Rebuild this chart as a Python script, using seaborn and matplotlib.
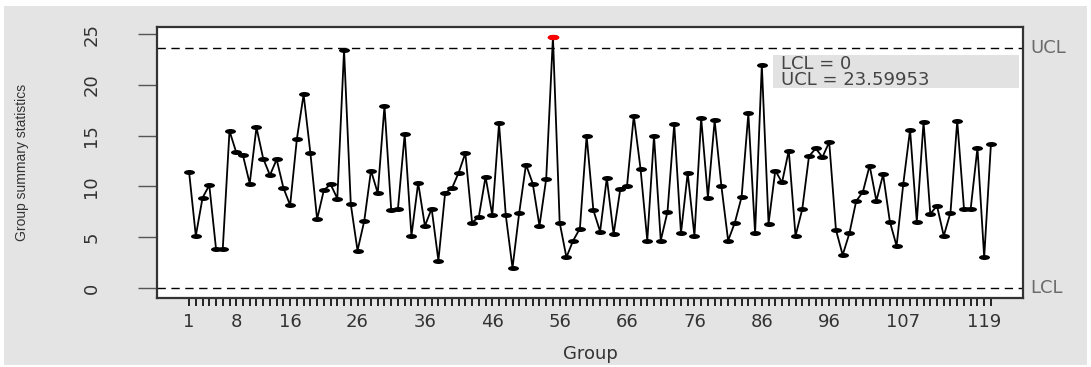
import numpy as np
import pandas as pd
import matplotlib
matplotlib.use("Agg")
import matplotlib.pyplot as plt
import seaborn as sns
from matplotlib.markers import MarkerStyle
from matplotlib.transforms import Affine2D
from matplotlib.patches import Rectangle

# Group summary statistics, one value per group (groups 1..120)
stats = [
    11.44, 5.13, 8.88, 10.12, 3.85, 3.85, 15.48, 13.35, 13.05, 10.29,
    15.81, 12.75, 11.11, 12.66, 9.86, 8.15, 14.69, 19.07, 13.31, 6.77,
    9.63, 10.22, 8.81, 23.44, 8.25, 3.68, 6.61, 11.57, 9.34, 17.95,
    7.66, 7.82, 15.15, 5.13, 10.36, 6.11, 7.82, 2.70, 9.37, 9.80,
    11.34, 13.28, 6.44, 7.00, 10.95, 7.17, 16.21, 7.17, 1.97, 7.43,
    12.16, 10.29, 6.11, 10.75, 24.72, 6.44, 3.02, 4.67, 5.85, 14.99,
    7.66, 5.56, 10.85, 5.29, 9.76, 10.09, 16.96, 11.74, 4.67, 14.99,
    4.67, 7.50, 16.14, 5.39, 11.34, 5.13, 16.73, 8.91, 16.50, 10.03,
    4.67, 6.44, 8.97, 17.19, 5.39, 21.96, 6.34, 11.57, 10.39, 13.54,
    5.13, 7.76, 12.98, 13.74, 12.89, 14.37, 5.72, 3.25, 5.39, 8.55,
    9.47, 12.06, 8.58, 11.18, 6.54, 4.14, 10.29, 15.58, 6.54, 16.37,
    7.30, 8.09, 5.13, 7.43, 16.47, 7.82, 7.82, 13.81, 3.02, 14.17,
]
groups = list(range(1, len(stats) + 1))

# Control limits
LCL = 0.0
UCL = 23.59953

# Groups that receive a printed label on the x axis
labelled_groups = [1, 8, 16, 26, 36, 46, 56, 66, 76, 86, 96, 107, 119]
y_ticks = [0, 5, 10, 15, 20, 25]

df = pd.DataFrame({"group": groups, "stat": stats})
beyond = df[(df["stat"] > UCL) | (df["stat"] < LCL)]

sns.set_theme(style="white")
plt.rcParams["font.family"] = ["DejaVu Sans"]

W, H = 1091, 367
fig = plt.figure(figsize=(W / 100, H / 100), dpi=100, facecolor="white")
# light grey panel behind everything
fig.patches.append(Rectangle((4 / W, 2 / H), 1083 / W, 359 / H,
                             transform=fig.transFigure, facecolor="#e4e4e4",
                             edgecolor="none", zorder=-10))

ax = fig.add_axes([157 / W, (H - 298) / H, 866 / W, 271 / H])
ax.set_facecolor("white")

# stretched dot marker
dot = MarkerStyle("o", transform=Affine2D().scale(2.2, 1.0))

sns.lineplot(data=df, x="group", y="stat", ax=ax, color="black",
             linewidth=1.3, estimator=None, marker=dot, markersize=3.6,
             markerfacecolor="black", markeredgewidth=0, zorder=3)
sns.scatterplot(data=beyond, x="group", y="stat", ax=ax, color="red",
                marker=dot, s=15, linewidth=0, zorder=4)

# control limit lines
for lim, name in [(UCL, "UCL"), (LCL, "LCL")]:
    ax.axhline(lim, color="black", linewidth=1.0, dashes=(6, 4), zorder=2)
    ax.text(1.008, lim, name, transform=ax.get_yaxis_transform(),
            ha="left", va="center", fontsize=13, color="#6a6a6a",
            clip_on=False)

n = len(stats)
pad = 0.04 * (n - 1)
ax.set_xlim(1 - pad, n + pad)
ymax = max(max(stats), UCL)
ymin = min(min(stats), LCL)
ypad = 0.04 * (ymax - ymin)
ax.set_ylim(ymin - ypad, ymax + ypad)

ax.set_xticks(groups)
ax.set_xticklabels([str(g) if g in labelled_groups else "" for g in groups])
ax.set_yticks(y_ticks)
ax.set_yticklabels([str(v) for v in y_ticks], rotation=90, va="center")

ax.tick_params(axis="x", length=5.8, width=1.4, color="#222222", pad=5,
               labelsize=13, labelcolor="#333333", direction="out",
               bottom=True)
ax.tick_params(axis="y", length=13.7, width=1.0, color="#555555", pad=27,
               labelsize=13, labelcolor="#333333", direction="out",
               left=True)

for sp in ax.spines.values():
    sp.set_visible(True)
    sp.set_color("#333333")
    sp.set_linewidth(1.6)

ax.set_xlabel("Group", fontsize=13, color="#333333")
ax.set_ylabel("Group summary statistics", fontsize=10, color="#333333",
              family=["Liberation Sans", "DejaVu Sans"])
ax.xaxis.set_label_coords(0.5, -0.172)
ax.yaxis.set_label_coords(-0.148, 0.5)

# limits box
ax.add_patch(Rectangle((0.711, 0.775), 0.284, 0.122, transform=ax.transAxes,
                       facecolor="#e2e2e2", edgecolor="none", zorder=5))
ax.text(0.72, 0.863, f"LCL = {LCL:g}", transform=ax.transAxes, ha="left",
        va="center", fontsize=13, color="#444444", zorder=6)
ax.text(0.72, 0.803, f"UCL = {UCL:.5f}", transform=ax.transAxes, ha="left",
        va="center", fontsize=13, color="#444444", zorder=6)

fig.savefig("out.png", dpi=100, facecolor=fig.get_facecolor())
